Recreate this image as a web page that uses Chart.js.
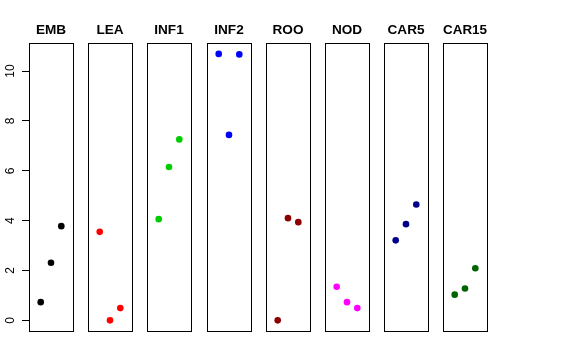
<!DOCTYPE html>
<html>
<head>
<meta charset="utf-8">
<script src="https://cdn.jsdelivr.net/npm/chart.js@4"></script>
<style>
  html, body { margin: 0; padding: 0; background: #fff; }
  #wrap { position: relative; width: 576px; height: 360px; overflow: hidden; background: #fff; }
  canvas { position: absolute; top: 0; }
</style>
</head>
<body>
<div id="wrap"></div>
<script>
// ---- data ----
const categories = ['EMB', 'LEA', 'INF1', 'INF2', 'ROO', 'NOD', 'CAR5', 'CAR15'];
const xPositions = [1, 2, 3];
const embValues   = [0.73, 2.31, 3.78];
const leaValues   = [3.55, 0.00, 0.49];
const inf1Values  = [4.06, 6.15, 7.26];
const inf2Values  = [10.69, 7.44, 10.67];
const rooValues   = [0.00, 4.10, 3.94];
const nodValues   = [1.35, 0.73, 0.49];
const car5Values  = [3.21, 3.86, 4.65];
const car15Values = [1.03, 1.28, 2.09];
const yTicks = [0, 2, 4, 6, 8, 10];
const seriesValues = [embValues, leaValues, inf1Values, inf2Values, rooValues, nodValues, car5Values, car15Values];
const seriesColors = ['#000000', '#FF0000', '#00CD00', '#0000FF', '#8B0000', '#FF00FF', '#00008B', '#006400'];

// ---- layout ----
const panelLefts = [29, 88, 147, 207, 266, 325, 384, 443];
const panelWidth = 44;
const panelTop = 43;
const panelBottom = 331;
const sidePad = 8;
const yAxisWidth = 29;
const FONT = "'Liberation Sans', Arial, Helvetica, sans-serif";

const boxPlugin = {
  id: 'panelBox',
  beforeDatasetsDraw(chart) {
    const a = chart.chartArea;
    const ctx = chart.ctx;
    ctx.save();
    ctx.strokeStyle = '#000';
    ctx.lineWidth = 1;
    ctx.strokeRect(Math.round(a.left) + 0.5, Math.round(a.top) + 0.5,
                   Math.round(a.right - a.left), Math.round(a.bottom - a.top));
    ctx.restore();
  }
};

const wrap = document.getElementById('wrap');
categories.forEach((cat, k) => {
  const withAxis = k === 0;
  const canvas = document.createElement('canvas');
  const leftPx = withAxis ? 0 : panelLefts[k] - sidePad;
  const widthPx = withAxis ? yAxisWidth + panelWidth + sidePad : panelWidth + 2 * sidePad;
  canvas.width = widthPx;
  canvas.height = 360;
  canvas.style.left = leftPx + 'px';
  canvas.style.width = widthPx + 'px';
  canvas.style.height = '360px';
  wrap.appendChild(canvas);

  const titleLine = 13.6 * 1.2;
  const titleTopPad = 22.5;
  const yScale = {
    type: 'linear',
    display: withAxis,
    position: 'left',
    min: -0.428,
    max: 11.128,
    afterBuildTicks(scale) { scale.ticks = yTicks.map(v => ({ value: v })); },
    border: { display: false },
    grid: {
      display: true,
      drawOnChartArea: false,
      drawTicks: true,
      tickLength: 7,
      tickWidth: 1,
      tickColor: '#000'
    },
    ticks: {
      minRotation: 90,
      maxRotation: 90,
      crossAlign: 'center',
      padding: 5,
      color: '#000',
      font: { family: FONT, size: 12 },
      callback: (v) => String(v)
    }
  };
  if (withAxis) yScale.afterFit = (scale) => { scale.width = yAxisWidth; };

  new Chart(canvas.getContext('2d'), {
    type: 'scatter',
    data: {
      datasets: [{
        label: cat,
        data: xPositions.map((x, i) => ({ x: x, y: seriesValues[k][i] })),
        backgroundColor: seriesColors[k],
        borderColor: seriesColors[k],
        borderWidth: 0,
        pointRadius: 3.3,
        pointHoverRadius: 3.3
      }]
    },
    options: {
      responsive: false,
      animation: false,
      devicePixelRatio: 1,
      events: [],
      layout: {
        autoPadding: false,
        padding: { left: withAxis ? 0 : sidePad, right: sidePad, top: 0, bottom: 360 - panelBottom }
      },
      plugins: {
        legend: { display: false },
        tooltip: { enabled: false },
        title: {
          display: true,
          fullSize: false,
          text: cat,
          color: '#000',
          font: { family: FONT, size: 13.6, weight: 'bold', lineHeight: 1.2 },
          padding: { top: titleTopPad, bottom: panelTop - titleTopPad - titleLine }
        }
      },
      scales: {
        x: {
          type: 'linear',
          display: false,
          min: 2 - 2.136,
          max: 2 + 2.136
        },
        y: yScale
      }
    },
    plugins: [boxPlugin]
  });
});
</script>
</body>
</html>
